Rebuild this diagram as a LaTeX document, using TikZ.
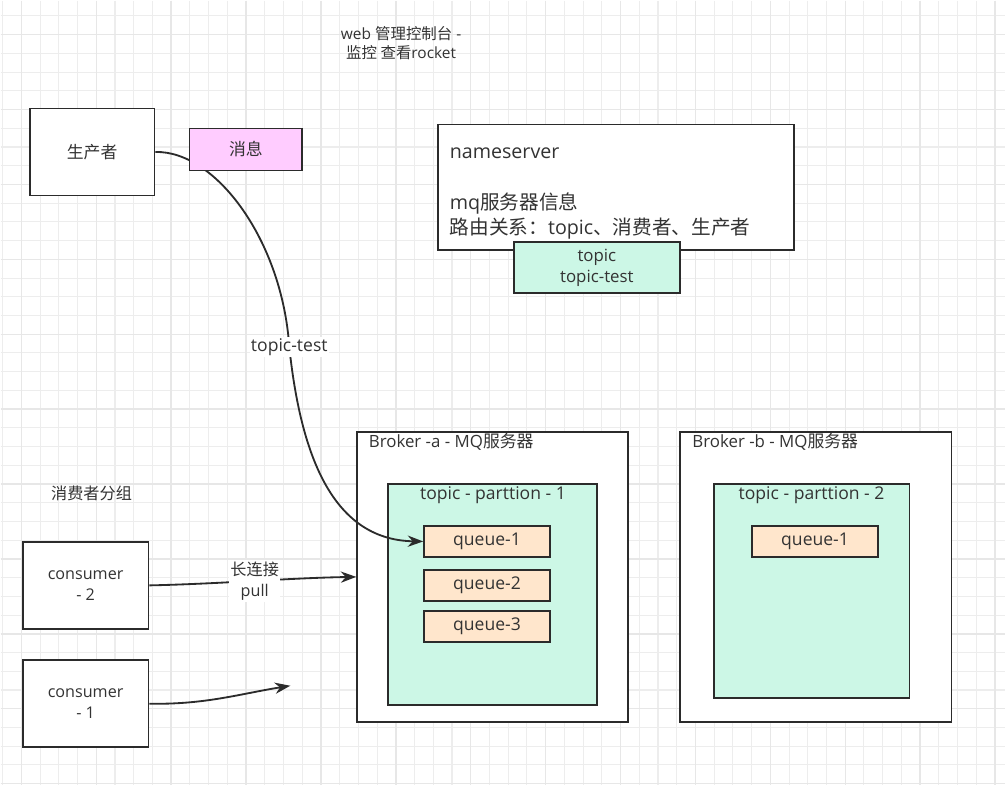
\documentclass[tikz,border=0pt]{standalone}
\usepackage{fontspec}
\setmainfont{Open Sans}
\newfontfamily\cjk{Noto Sans CJK SC}
\usepackage{xcolor}
\usepackage{tikz}
\usetikzlibrary{arrows.meta, positioning}

\definecolor{txt}{HTML}{333333}
\definecolor{linec}{HTML}{2B2B2B}
\definecolor{msgpink}{HTML}{FFCCFF}
\definecolor{mint}{HTML}{CCF7E6}
\definecolor{peach}{HTML}{FFE6CC}
\definecolor{gridminor}{HTML}{EDEDED}
\definecolor{gridmajor}{HTML}{E7E7E7}

\begin{document}
\begin{tikzpicture}[x=0.025cm, y=-0.025cm, >={Stealth[length=11pt, width=8pt]}, text=txt,
    box/.style={draw=linec, line width=1.3pt, rectangle, fill=white, font=\fontsize{11.5}{15}\selectfont, align=center},
    queuebox/.style={box, fill=peach, minimum width=3.15cm, minimum height=0.775cm, font=\fontsize{12.5}{15}\selectfont},
    plain/.style={font=\fontsize{11}{15}\selectfont, align=center, inner sep=1pt},
    conn/.style={->, draw=linec, line width=1.3pt}]

    % background grid
    \fill[white] (0,0) rectangle (1006,785);
    \foreach \gx in {1.95,20.7,...,1006} \draw[gridminor, line width=0.75pt] (\gx,0) -- (\gx,785);
    \foreach \gy in {15.25,34,...,785} \draw[gridminor, line width=0.75pt] (0,\gy) -- (1006,\gy);
    \foreach \gx in {20.7,95.7,...,1006} \draw[gridmajor, line width=1pt] (\gx,0) -- (\gx,785);
    \foreach \gy in {34,109,...,785} \draw[gridmajor, line width=1pt] (0,\gy) -- (1006,\gy);
    \useasboundingbox (0,0) rectangle (1006,785);

    % title
    \node (web_note) [plain, font=\fontsize{11}{13.5}\selectfont] at (401,42) {web {\cjk 管理控制台} -\\{\cjk 监控 查看}rocket};

    % producer side
    \node (producer) [box, font=\fontsize{12}{15}\selectfont, minimum width=3.125cm, minimum height=2.175cm] at (91.5,151.5) {\cjk 生产者};

    % nameserver
    \node (nameserver) [box, minimum width=8.9cm, minimum height=3.15cm] at (616,187) {};
    \node (ns_text) [plain, anchor=west, align=left, font=\fontsize{14}{18}\selectfont] at (448,193)
        {nameserver\\[18pt] mq{\cjk 服务器信息}\\{\cjk 路由关系：}topic{\cjk 、消费者、生产者}};
    \node (topic_box) [box, fill=mint, minimum width=4.15cm, minimum height=1.275cm, font=\fontsize{12}{14.5}\selectfont] at (597,267.5) {topic\\topic-test};

    % Broker a
    \node (broker_a) [box, minimum width=6.775cm, minimum height=7.25cm] at (492.5,577) {};
    \node (broker_a_lbl) [plain, anchor=west, font=\fontsize{12}{15}\selectfont] at (367,442) {Broker -a - MQ{\cjk 服务器}};
    \node (part_a) [box, fill=mint, minimum width=5.225cm, minimum height=5.525cm] at (492.5,594.5) {};
    \node (part_a_lbl) [plain, font=\fontsize{12.5}{15}\selectfont] at (493,495) {topic - parttion - 1};
    \node (queue_a1) [queuebox] at (487,541.5) {queue-1};
    \node (queue_a2) [queuebox] at (487,585.5) {queue-2};
    \node (queue_a3) [queuebox] at (487,626.5) {queue-3};

    % Broker b
    \node (broker_b) [box, minimum width=6.8cm, minimum height=7.25cm] at (816,577) {};
    \node (broker_b_lbl) [plain, anchor=west, font=\fontsize{12}{15}\selectfont] at (691,442) {Broker -b - MQ{\cjk 服务器}};
    \node (part_b) [box, fill=mint, minimum width=4.9cm, minimum height=5.35cm] at (812,591) {};
    \node (part_b_lbl) [plain, font=\fontsize{12.5}{15}\selectfont] at (812,495) {topic - parttion - 2};
    \node (queue_b1) [queuebox] at (815.5,541.5) {queue-1};

    % producer -> queue
    \draw[conn] (producer.east) .. controls (215,150) and (282,240) .. (289,347)
        node (topic_test) [plain, fill=white, font=\fontsize{12.5}{15}\selectfont] {topic-test}
        .. controls (300,450) and (330,540) .. (queue_a1.west);
    \node (msg) [box, fill=msgpink, font=\fontsize{12}{15}\selectfont, minimum width=2.825cm, minimum height=1.05cm] at (245.5,149) {\cjk 消息};

    % consumers
    \node (group_lbl) [plain, font=\fontsize{11.5}{15}\selectfont] at (91,493) {\cjk 消费者分组};
    \node (consumer_2) [box, minimum width=3.15cm, minimum height=2.175cm, font=\fontsize{11.5}{15}\selectfont] at (85,585.5) {consumer\\- 2};
    \node (consumer_1) [box, minimum width=3.15cm, minimum height=2.175cm, font=\fontsize{11.5}{15}\selectfont] at (85,704) {consumer\\- 1};
    \coordinate (c1_end) at (290,686);

    \draw[conn] (consumer_2.east) .. controls (220,584) and (290,578) .. (broker_a.west)
        node (pull_lbl) [pos=0.5, plain, fill=white, font=\fontsize{11.5}{15}\selectfont] {{\cjk 长连接}\\pull};
    \draw[conn] (consumer_1.east) .. controls (205,705) and (240,694) .. (c1_end);

\end{tikzpicture}
\end{document}
